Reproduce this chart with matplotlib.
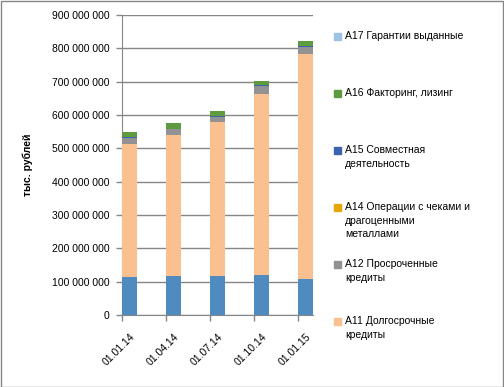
# stacked bars of the credit portfolio by quarter
import matplotlib
matplotlib.use('Agg')
import matplotlib.pyplot as plt
import numpy as np
from matplotlib.patches import Rectangle
from matplotlib.ticker import FuncFormatter

plt.rcParams['font.family'] = ['Liberation Sans', 'DejaVu Sans']

# dates and values in thousand roubles
dates = ['01.01.14', '01.04.14', '01.07.14', '01.10.14', '01.01.15']
a10 = [115e6, 118e6, 118e6, 121e6, 108e6]     # lower blue series (not in the legend)
a11 = [399e6, 423e6, 461e6, 542e6, 676e6]
a12 = [18e6, 17e6, 16e6, 25e6, 21e6]
a14 = [0.3e6, 0.3e6, 0.3e6, 0.3e6, 0.3e6]
a15 = [0.5e6, 0.5e6, 3e6, 0.5e6, 0.5e6]
a16 = [15e6, 16e6, 14e6, 13e6, 15e6]
a17 = [0.3e6, 0.3e6, 0.3e6, 0.3e6, 0.3e6]

series = [a10, a11, a12, a14, a15, a16, a17]
colors = ['#4F8BBE', '#FAC090', '#929292', '#E6A800', '#3C64AE', '#5E9B3E', '#9DC3E6']

legend_names = ['A17 Гарантии выданные', 'A16 Факторинг, лизинг',
                'A15 Совместная\nдеятельность',
                'A14 Операции с чеками и\nдрагоценными\nметаллами',
                'A12 Просроченные\nкредиты', 'A11 Долгосрочные\nкредиты']
legend_colors = ['#9DC3E6', '#5E9B3E', '#3C64AE', '#E6A800', '#929292', '#FAC090']

W, H = 504, 387
fig = plt.figure(figsize=(W / 100, H / 100), dpi=100)

# axes placed in pixels: x 122..313, y 15..315
ax = fig.add_axes([122 / W, 1 - 315 / H, 191 / W, 300 / H])

x = np.arange(len(dates))
bottom = np.zeros(len(dates))
for vals, c in zip(series, colors):
    ax.bar(x, vals, width=0.34, bottom=bottom, color=c, zorder=3, clip_on=False)
    bottom += np.array(vals)

ax.set_xlim(-0.18, -0.18 + 191 / 44)
ax.set_ylim(0, 900e6)
ax.set_yticks(np.arange(0, 900e6 + 1, 100e6))
ax.yaxis.set_major_formatter(FuncFormatter(lambda v, p: '{:,.0f}'.format(v).replace(',', ' ')))
ax.grid(axis='y', color='#868686', linewidth=1, zorder=0)

ax.set_xticks(x)
ax.set_xticklabels(dates, rotation=45, ha='right', va='top', rotation_mode='anchor')
ax.tick_params(axis='x', length=0, pad=12, labelsize=7.5, colors='#000000')
ax.set_xticks(np.arange(-0.18, 4.0, 1), minor=True)
ax.tick_params(axis='x', which='minor', length=4, color='#868686', width=1)
ax.tick_params(axis='y', length=4, color='#868686', width=1, labelsize=7.5, pad=5)

for s in ['top', 'right']:
    ax.spines[s].set_visible(False)
ax.spines['left'].set_color('#868686')
ax.spines['bottom'].set_color('#868686')

fig.text(28 / W, 1 - 165 / H, 'тыс. рублей', rotation=90, ha='center', va='center',
         fontsize=7.5, fontweight='bold')

# legend drawn by hand, Excel style spacing
for i, (name, c) in enumerate(zip(legend_names, legend_colors)):
    ytop = 31 + 57 * i
    fig.patches.append(Rectangle((334 / W, 1 - (ytop + 9) / H), 7 / W, 7 / H,
                                 transform=fig.transFigure, color=c))
    fig.text(345 / W, 1 - ytop / H, name, ha='left', va='top', fontsize=7.5,
             linespacing=1.45)

# outer frame
fig.patches.append(Rectangle((0.5 / W, 0.5 / H), 1 - 1.5 / W, 1 - 1.5 / H,
                             transform=fig.transFigure, fill=False,
                             edgecolor='#868686', linewidth=1))

fig.savefig('out.png', dpi=100)
